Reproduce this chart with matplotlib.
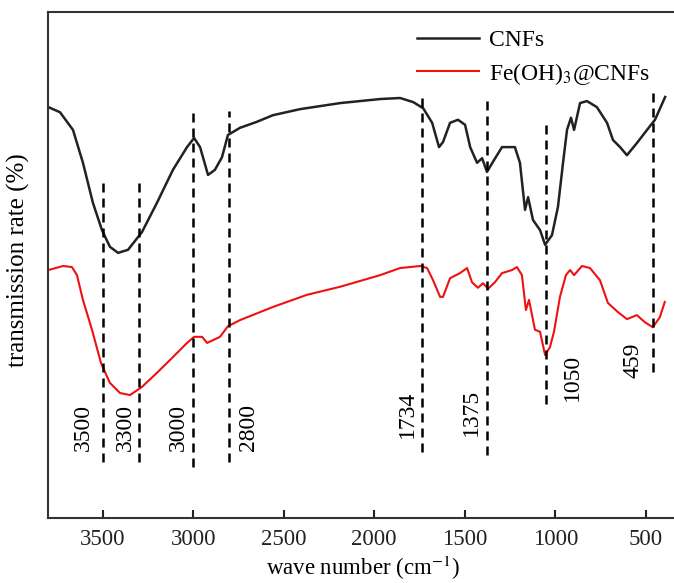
import matplotlib
matplotlib.use("Agg")
from matplotlib import pyplot as plt

plt.rcParams["font.family"] = ["Liberation Serif", "DejaVu Serif"]
plt.rcParams["mathtext.fontset"] = "stix"

# CNFs spectrum (wavenumber, transmission)
cnf_x = [3800, 3736, 3664, 3609, 3554, 3504, 3460, 3415, 3360, 3283, 3200, 3112,
         3034, 2995, 2962, 2918, 2880, 2841, 2808, 2742, 2648, 2560, 2410, 2188,
         1967, 1857, 1785, 1730, 1680, 1642, 1620, 1581, 1537, 1498, 1470, 1432,
         1404, 1377, 1344, 1294, 1223, 1195, 1167, 1150, 1123, 1084, 1056, 1018,
         985, 957, 935, 913, 896, 863, 825, 770, 714, 681, 642, 604, 549, 493,
         449, 393]
cnf_y = [81.2, 80.2, 76.7, 70.2, 62.3, 56.9, 53.6, 52.4, 53.0, 56.5, 62.3, 68.8,
         73.3, 75.1, 73.3, 67.8, 68.8, 71.3, 75.7, 77.1, 78.3, 79.6, 80.8, 82.0,
         82.8, 83.0, 82.2, 81.0, 78.1, 73.3, 74.3, 78.1, 78.7, 77.7, 73.3, 70.2,
         71.1, 68.4, 70.4, 73.3, 73.3, 70.2, 60.9, 63.4, 58.9, 56.9, 54.0, 55.9,
         61.5, 70.2, 76.7, 79.1, 76.7, 82.0, 82.4, 81.2, 78.1, 74.7, 73.3, 71.7,
         74.1, 76.7, 78.7, 83.2]

# Fe(OH)3@CNFs spectrum
fe_x = [3800, 3719, 3670, 3642, 3609, 3559, 3509, 3460, 3404, 3349, 3283, 3200,
        3112, 3034, 2995, 2951, 2923, 2852, 2808, 2742, 2560, 2372, 2188, 1967,
        1857, 1747, 1708, 1675, 1636, 1620, 1581, 1526, 1487, 1460, 1427, 1399,
        1371, 1333, 1294, 1239, 1212, 1184, 1162, 1145, 1112, 1084, 1056, 1029,
        1007, 974, 941, 918, 896, 852, 808, 753, 709, 654, 604, 549, 505, 461,
        422, 395]
fe_y = [49.0, 49.8, 49.6, 48.0, 43.1, 37.2, 30.6, 26.7, 24.7, 24.3, 25.9, 28.7,
        31.8, 34.6, 35.8, 35.8, 34.6, 35.8, 37.9, 39.1, 41.7, 44.1, 45.7, 48.0,
        49.4, 49.8, 49.4, 47.0, 43.7, 43.7, 47.4, 48.4, 49.4, 46.6, 45.5, 46.4,
        45.3, 46.6, 48.4, 49.0, 49.6, 48.0, 41.1, 43.1, 37.2, 36.8, 32.2, 33.8,
        36.8, 43.7, 48.0, 49.0, 48.0, 49.8, 49.4, 47.0, 42.5, 40.7, 39.3, 40.1,
        38.7, 37.7, 39.7, 42.7]

# marked peaks: position, dashed line top/bottom, label position
peaks = [3500, 3300, 3000, 2800, 1734, 1375, 1050, 459]
peak_top = [66.4, 66.2, 80.2, 80.4, 83.2, 82.8, 77.7, 84.0]
peak_bottom = [11.1, 11.1, 10.1, 11.1, 13.0, 12.5, 22.5, 28.9]
label_x = [3609, 3377, 3084, 2697, 1818, 1465, 906, 569]
label_y = [17.8, 17.8, 17.8, 17.8, 20.4, 20.9, 27.7, 31.2]

ticks = [3500, 3000, 2500, 2000, 1500, 1000, 500]

fig = plt.figure(figsize=(6.74, 5.83), dpi=100)
ax = fig.add_axes([48 / 674, 65 / 583, 626 / 674, 506 / 583])

ax.plot(cnf_x, cnf_y, color="#222222", lw=1.8, label="CNFs")
ax.plot(fe_x, fe_y, color="#ee1111", lw=1.5, label="Fe(OH)$_3$@CNFs")

for p, top, bot in zip(peaks, peak_top, peak_bottom):
    ax.plot([p, p], [bot, top], color="black", lw=1.8, dashes=(3.6, 2.4))

for p, lx, ly in zip(peaks, label_x, label_y):
    ax.text(lx, ly, str(p), rotation=90, ha="center", va="center", fontsize=17)

ax.set_xlim(3802, 344)
ax.set_ylim(0, 100)
ax.set_xticks(ticks)
ax.set_yticks([])
ax.tick_params(axis="x", direction="in", length=6, width=1.5, pad=8,
               labelsize=16.5, colors="#222222")
for s in ["left", "top", "bottom"]:
    ax.spines[s].set_linewidth(1.5)
    ax.spines[s].set_color("#333333")
ax.spines["right"].set_visible(False)

ax.set_xlabel("wave number (cm$^{-1}$)", fontsize=16.5)
ax.xaxis.set_label_coords(0.503, -0.07)
ax.set_ylabel("transmission rate (%)", fontsize=18)
ax.yaxis.set_label_coords(-0.029, 0.51)

ax.legend(loc="upper left", bbox_to_anchor=(0.59, 0.965), frameon=False,
          fontsize=17, handlelength=2.6, handletextpad=0.45, labelspacing=0.4,
          borderpad=0, borderaxespad=0)

fig.savefig("out.png", dpi=100)
